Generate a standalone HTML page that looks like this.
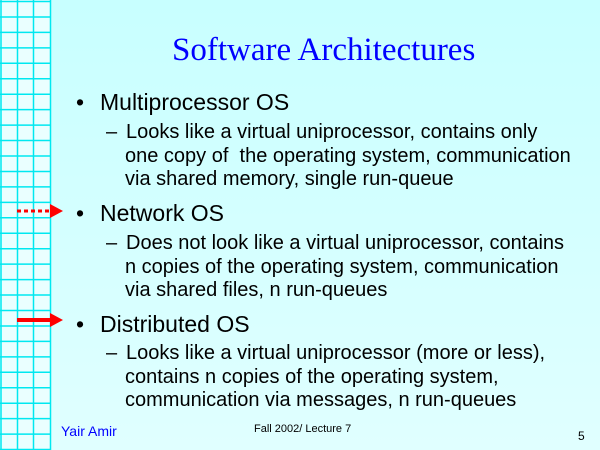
<!DOCTYPE html>
<html><head><style>
body{margin:0;width:600px;height:450px;overflow:hidden;background:#ccffff;font-family:"Liberation Sans",Arial,sans-serif;position:relative}
.t{position:absolute;white-space:nowrap;line-height:1}
.h{font-size:23px;color:#000}
.s{font-size:20px;color:#000;line-height:23.5px}
</style></head><body>
<svg width="600" height="450" style="position:absolute;left:0;top:0">
<defs><linearGradient id="g" x1="0" y1="0" x2="0" y2="1"><stop offset="0" stop-color="#c8ffff"/><stop offset="1" stop-color="#e0ffff"/></linearGradient></defs>
<rect x="0" y="0" width="600" height="450" fill="url(#g)"/>
<rect x="0" y="0" width="50" height="450" fill="#eaffff"/>
<g stroke="#00e8f0" stroke-width="1.5">
<line x1="1" y1="0" x2="1" y2="450"/><line x1="17.5" y1="0" x2="17.5" y2="450"/><line x1="33.5" y1="0" x2="33.5" y2="450"/><line x1="50.5" y1="0" x2="50.5" y2="450"/>
</g>
<g stroke="#00e8f0" stroke-width="1.5" id="hl"></g>
<g stroke="#ff0000" stroke-width="3">
<line x1="17" y1="211" x2="50" y2="211" stroke-dasharray="4,3"/>
<line x1="17" y1="320" x2="52" y2="320" stroke-width="4"/>
</g>
<polygon points="50,204 63,211 50,218" fill="#ff0000"/>
<polygon points="50,313 63,320 50,327" fill="#ff0000"/>
</svg>
<script>
var g=document.getElementById('hl');var s='';for(var y=1.5;y<450;y+=15.45){s+='<line x1="0" y1="'+y+'" x2="50" y2="'+y+'"/>';}g.innerHTML=s;
</script>
<div class="t" style="left:172px;top:34px;font-family:'Liberation Serif',serif;font-size:33px;color:#0000ff">Software Architectures</div>

<div class="t h" style="left:76px;top:91px">•</div>
<div class="t h" style="left:100px;top:91px">Multiprocessor OS</div>
<div class="t s" style="left:106px;top:121px">–</div>
<div class="t s" style="left:126px;top:121px">Looks like a virtual uniprocessor, contains only</div>
<div class="t s" style="left:125px;top:144.5px">one copy of&nbsp; the operating system, communication<br>via shared memory, single run-queue</div>

<div class="t h" style="left:76px;top:202px">•</div>
<div class="t h" style="left:100px;top:202px">Network OS</div>
<div class="t s" style="left:106px;top:232px">–</div>
<div class="t s" style="left:126px;top:232px">Does not look like a virtual uniprocessor, contains</div>
<div class="t s" style="left:125px;top:255.5px">n copies of the operating system, communication<br>via shared files, n run-queues</div>

<div class="t h" style="left:76px;top:313px">•</div>
<div class="t h" style="left:100px;top:313px">Distributed OS</div>
<div class="t s" style="left:106px;top:342px">–</div>
<div class="t s" style="left:126px;top:342px">Looks like a virtual uniprocessor (more or less),</div>
<div class="t s" style="left:125px;top:365.5px">contains n copies of the operating system,<br>communication via messages, n run-queues</div>

<div class="t" style="left:61px;top:424px;font-size:14px;color:#0000ff">Yair Amir</div>
<div class="t" style="left:254px;top:424px;font-size:11px;color:#000">Fall 2002/ Lecture 7</div>
<div class="t" style="left:578px;top:430px;font-size:12px;color:#000">5</div>
</body></html>
